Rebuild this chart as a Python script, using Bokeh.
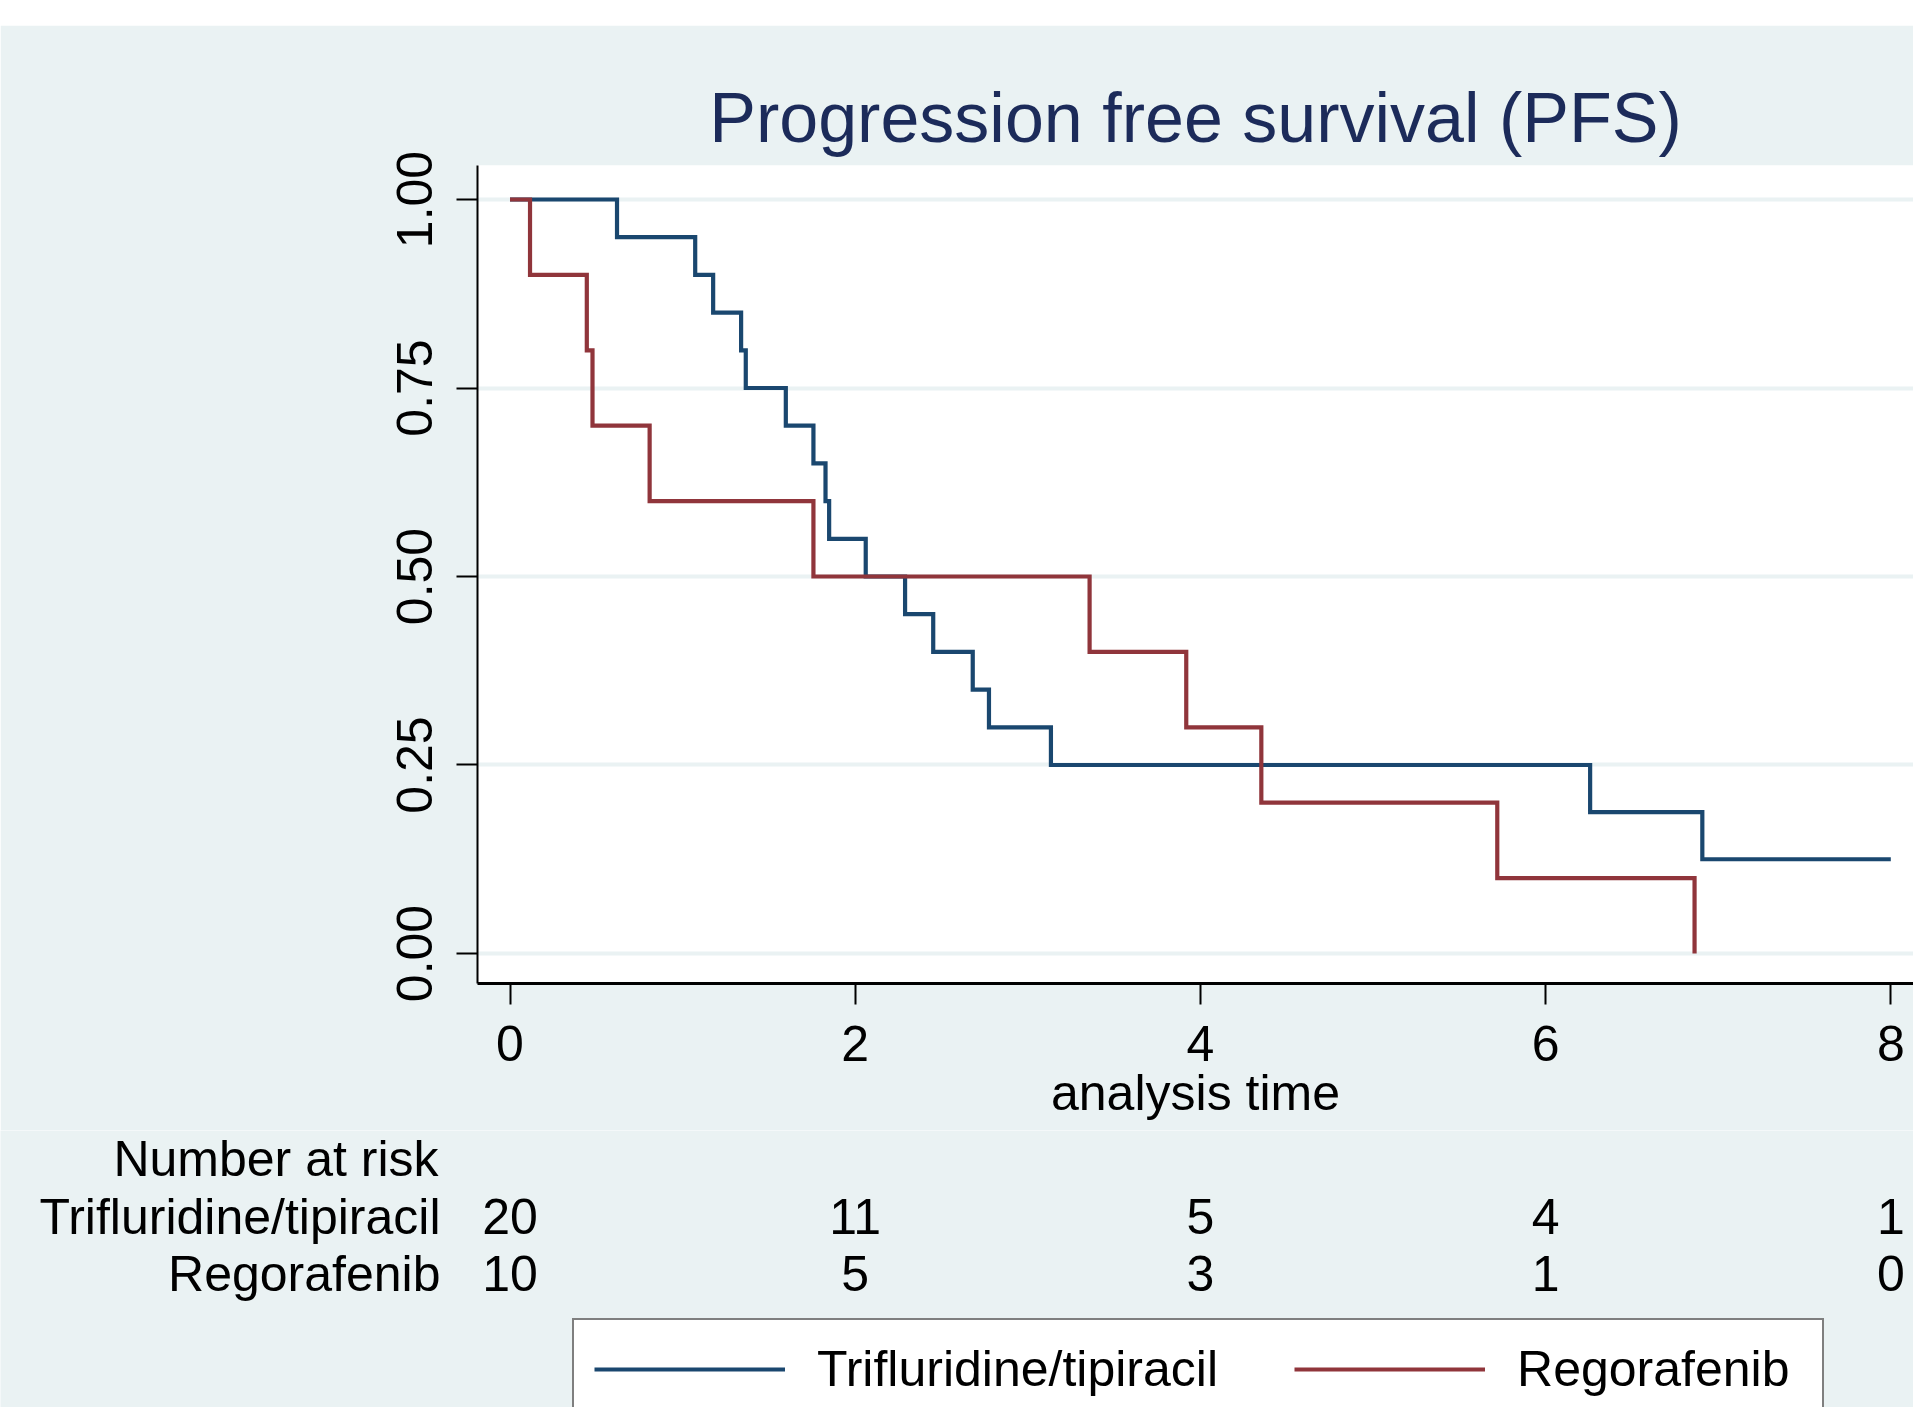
from bokeh.plotting import figure
from bokeh.models import (Range1d, Legend, LegendItem, NumeralTickFormatter, FixedTicker, Spacer)
from bokeh.core.properties import value
from bokeh.layouts import column
from bokeh.embed import file_html
from bokeh.resources import INLINE

# ---------------- data ----------------
title_text = "Progression free survival (PFS)"
x_label = "analysis time"
series_names = ["Trifluridine/tipiracil", "Regorafenib"]

# Kaplan-Meier steps (time, survival after the event)
tri_time = [0.0, 0.62, 1.073, 1.177, 1.339, 1.366, 1.598, 1.758, 1.828, 1.849, 2.061,
            2.289, 2.452, 2.681, 2.775, 3.134, 6.258, 6.908, 8.0]
tri_surv = [1.0, 0.95, 0.90, 0.85, 0.80, 0.75, 0.70, 0.65, 0.60, 0.55, 0.50,
            0.45, 0.40, 0.35, 0.30, 0.25, 0.1875, 0.125, 0.125]

reg_time = [0.0, 0.116, 0.445, 0.478, 0.809, 1.758, 3.358, 3.918, 4.353, 5.72, 6.863]
reg_surv = [1.0, 0.90, 0.80, 0.70, 0.60, 0.50, 0.40, 0.30, 0.20, 0.10, 0.0]

x_ticks = [0, 2, 4, 6, 8]
y_ticks = [0.0, 0.25, 0.5, 0.75, 1.0]

risk_title = "Number at risk"
risk_times = [0, 2, 4, 6, 8]
tri_risk = [20, 11, 5, 4, 1]
reg_risk = [10, 5, 3, 1, 0]

# ---------------- style ----------------
BG = "#EAF2F3"
NAVY = "#1A476F"
MAROON = "#90353B"
TITLE_C = "#1C2B5A"
FONT = "Liberation Sans"
LW = 4.2

W = 1913
TOP_WHITE = 25
FL, FT, FR, FB = 477, 165, 1913, 983   # plot frame on the page
MAIN_BOTTOM = 1130
PAGE_H = 1407

x0, x1 = -0.1883, 8.1315
y0, y1 = -0.0398, 1.0451


def X(px):
    return x0 + (px - FL) * (x1 - x0) / (FR - FL)


# ---------------- main plot ----------------
p = figure(width=W, height=MAIN_BOTTOM - TOP_WHITE, output_backend="svg",
           toolbar_location=None,
           x_range=Range1d(x0, x1), y_range=Range1d(y0, y1),
           min_border_left=FL, min_border_right=0,
           min_border_top=FT - TOP_WHITE, min_border_bottom=MAIN_BOTTOM - FB)
p.border_fill_color = BG
p.background_fill_color = "white"
p.outline_line_color = None

p.title.text = title_text
p.title.align = "center"
p.title.text_font = FONT
p.title.text_font_size = "70px"
p.title.text_font_style = "normal"
p.title.text_color = TITLE_C
p.title.standoff = 17

p.xgrid.visible = False
p.ygrid.ticker = FixedTicker(ticks=y_ticks)
p.ygrid.grid_line_color = BG
p.ygrid.grid_line_width = 4

for ax in (p.xaxis[0], p.yaxis[0]):
    ax.axis_line_color = "black"
    ax.axis_line_width = 2
    ax.major_tick_line_color = "black"
    ax.major_tick_line_width = 2
    ax.major_tick_in = 0
    ax.major_tick_out = 21
    ax.minor_tick_line_color = None
    ax.major_label_text_font = FONT
    ax.major_label_text_font_size = "50px"
    ax.major_label_text_color = "black"

p.xaxis[0].ticker = FixedTicker(ticks=x_ticks)
p.xaxis[0].major_label_standoff = 21
p.xaxis[0].axis_line_width = 3
p.xaxis[0].axis_label = x_label
p.xaxis[0].axis_label_text_font = FONT
p.xaxis[0].axis_label_text_font_size = "50px"
p.xaxis[0].axis_label_text_font_style = "normal"
p.xaxis[0].axis_label_text_color = "black"
p.xaxis[0].axis_label_standoff = 1

p.yaxis[0].ticker = FixedTicker(ticks=y_ticks)
p.yaxis[0].formatter = NumeralTickFormatter(format="0.00")
p.yaxis[0].major_label_orientation = "vertical"
p.yaxis[0].major_label_standoff = 24

p.step(tri_time, tri_surv, mode="after", line_color=NAVY, line_width=LW, line_join="miter")
p.step(reg_time, reg_surv, mode="after", line_color=MAROON, line_width=LW, line_join="miter")

# ---------------- risk table + legend (same time scale) ----------------
q = figure(width=W, height=PAGE_H - MAIN_BOTTOM, output_backend="svg",
           toolbar_location=None, title=None,
           x_range=Range1d(X(0), X(W)), y_range=Range1d(PAGE_H, MAIN_BOTTOM),
           x_axis_location=None, y_axis_location=None, min_border=0,
           min_border_left=0, min_border_right=0, min_border_top=0, min_border_bottom=0)
q.border_fill_color = BG
q.background_fill_color = BG
q.outline_line_color = None
q.xgrid.visible = False
q.ygrid.visible = False

for fig in (p, q):
    try:
        fig.frame_align = False
    except Exception:
        pass

TXT = dict(text_font=value(FONT), text_font_size="50px", text_color="black",
           text_baseline="alphabetic")
SHIFT = 19
head_base = 1177 - SHIFT
row_base = [1235 - SHIFT, 1292 - SHIFT]
q.text(x=[X(438)], y=[head_base], text=[risk_title], text_align="right", **TXT)
q.text(x=[X(440)] * 2, y=row_base, text=series_names, text_align="right", **TXT)
for counts, rb in zip([tri_risk, reg_risk], row_base):
    q.text(x=risk_times, y=[rb] * len(risk_times), text=[str(c) for c in counts],
           text_align="center", **TXT)

nan = float("nan")
g1 = q.line(x=[nan, nan], y=[nan, nan], line_color=NAVY, line_width=LW)
g2 = q.line(x=[nan, nan], y=[nan, nan], line_color=MAROON, line_width=LW)
legend = Legend(items=[LegendItem(label=series_names[0], renderers=[g1]),
                       LegendItem(label=series_names[1], renderers=[g2])],
                orientation="horizontal", location=(572, PAGE_H - 1420))
legend.label_text_font = FONT
legend.label_text_font_size = "50px"
legend.label_text_color = "black"
legend.glyph_width = 191
legend.glyph_height = 44
legend.label_height = 44
legend.label_width = 285
legend.label_standoff = 32
legend.spacing = 76
legend.padding = 20
legend.margin = 0
legend.border_line_color = "black"
legend.border_line_width = 2.5
legend.background_fill_color = "white"
legend.background_fill_alpha = 1.0
q.add_layout(legend)

layout = column(Spacer(width=W, height=TOP_WHITE), p, q)
open("out.html", "w").write(file_html(layout, INLINE))
